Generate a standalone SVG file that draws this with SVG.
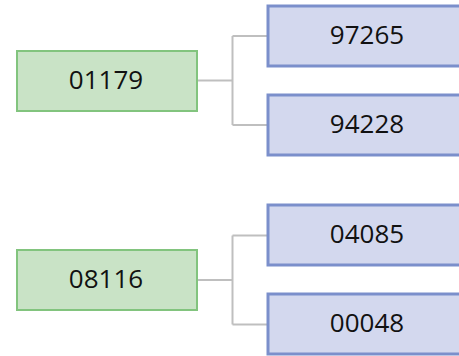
<svg xmlns="http://www.w3.org/2000/svg" width="459" height="356" viewBox="0 0 459 356">
<style>
.g{fill:#c9e3c6;stroke:#82c47e;stroke-width:2}
.b{fill:#d3d8ee;stroke:#7b8fcb;stroke-width:3}
.c{fill:none;stroke:#bfbfbf;stroke-width:2}
text{font-family:"Open Sans","DejaVu Sans",sans-serif;font-size:26px;fill:#111;text-anchor:middle;dominant-baseline:central}
</style>
<g id="connectors">
<path class="c" d="M197,80.5 H232.5 M232.5,36 V125 M232.5,36 H268 M232.5,125 H268"/>
<path class="c" d="M197,280 H232.5 M232.5,235.5 V324.5 M232.5,235.5 H268 M232.5,324.5 H268"/>
</g>
<g id="n01179"><rect class="g" x="17" y="51" width="180" height="60"/><text x="106" y="79">01179</text></g>
<g id="n97265"><rect class="b" x="268" y="6" width="200" height="60"/><text x="367" y="34">97265</text></g>
<g id="n94228"><rect class="b" x="268" y="95" width="200" height="60"/><text x="367" y="123">94228</text></g>
<g id="n08116"><rect class="g" x="17" y="250" width="180" height="60"/><text x="106" y="278">08116</text></g>
<g id="n04085"><rect class="b" x="268" y="205" width="200" height="60"/><text x="367" y="233">04085</text></g>
<g id="n00048"><rect class="b" x="268" y="294" width="200" height="60"/><text x="367" y="322">00048</text></g>
</svg>
